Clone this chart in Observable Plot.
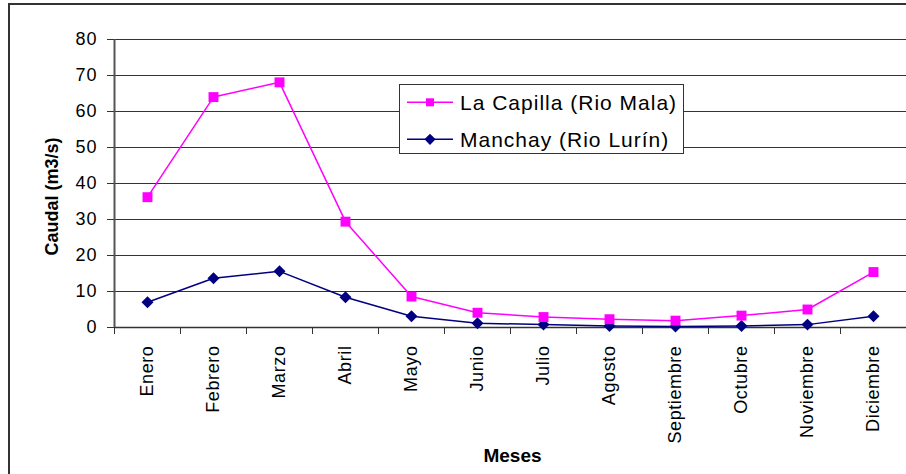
<!DOCTYPE html>
<html>
<head>
<meta charset="utf-8">
<script src="https://cdn.jsdelivr.net/npm/d3@7"></script>
<script src="https://cdn.jsdelivr.net/npm/@observablehq/plot@0.6"></script>
<style>
  html, body { margin: 0; padding: 0; background: #fff; }
  #wrap { position: relative; width: 906px; height: 474px; overflow: hidden; font-family: "Liberation Sans", Arial, sans-serif; }
  #border { position: absolute; left: 8px; top: 3px; width: 2000px; height: 2000px; border-left: 2px solid #333; border-top: 2px solid #333; box-sizing: border-box; pointer-events: none; }
  #legend { position: absolute; left: 399px; top: 84px; width: 285px; height: 70px; box-sizing: border-box; border: 1px solid #333; background: #fff; }
  #chart svg { display: block; }
</style>
</head>
<body>
<div id="wrap">
  <div id="chart"></div>
  <div id="border"></div>
  <div id="legend"></div>
</div>
<script>
// ---- Data ----
const months = ["Enero", "Febrero", "Marzo", "Abril", "Mayo", "Junio", "Julio", "Agosto", "Septiembre", "Octubre", "Noviembre", "Diciembre"];
const capilla = [36.2, 64.0, 68.1, 29.4, 8.6, 4.1, 2.9, 2.3, 1.9, 3.3, 5.0, 15.4];
const manchay = [7.0, 13.7, 15.6, 8.4, 3.1, 1.2, 0.8, 0.4, 0.3, 0.4, 0.8, 3.1];
const seriesNames = ["La Capilla (Rio Mala)", "Manchay (Rio Lurín)"];
const seriesColors = ["#FF00FF", "#000080"];
const yTicks = [0, 10, 20, 30, 40, 50, 60, 70, 80];
const yLabel = "Caudal (m3/s)";
const xLabel = "Meses";

const rows = months.map((m, i) => ({ pos: i + 0.5, month: m, capilla: capilla[i], manchay: manchay[i] }));
const bandEdges = d3.range(months.length + 1);

const chart = Plot.plot({
  width: 906,
  height: 474,
  marginLeft: 114,
  marginRight: 0,
  marginTop: 39,
  marginBottom: 147,
  style: { fontFamily: "'Liberation Sans', Arial, sans-serif", background: "transparent", color: "#000", overflow: "visible" },
  x: { type: "linear", domain: [0, months.length] },
  y: { domain: [0, 80] },
  marks: [
    Plot.gridY(yTicks, { stroke: "#333", strokeOpacity: 1, strokeWidth: 1 }),
    Plot.ruleY([0], { stroke: "#333", strokeWidth: 1.5 }),
    Plot.ruleX([0], { stroke: "#555", strokeWidth: 2 }),
    Plot.axisY(yTicks, { tickSize: 7, tickPadding: 10, fontSize: 18, label: null, tickFormat: d => String(d), stroke: "#333" }),
    Plot.axisX(bandEdges, { tickSize: 7, tickFormat: () => "", label: null, stroke: "#333" }),
    Plot.axisX(rows.map(d => d.pos), { tickSize: 0, tickPadding: 18, rotate: -90, textAnchor: "end", lineAnchor: "middle", fontSize: 18, label: null, tickFormat: d => months[Math.floor(d)] }),
    Plot.line(rows, { x: "pos", y: "capilla", stroke: seriesColors[0], strokeWidth: 1.5 }),
    Plot.line(rows, { x: "pos", y: "manchay", stroke: seriesColors[1], strokeWidth: 1.5 }),
    Plot.dot(rows, { x: "pos", y: "manchay", symbol: "diamond2", r: 5.4, fill: seriesColors[1], stroke: "none" }),
    Plot.dot(rows, { x: "pos", y: "capilla", symbol: "square", r: 5.6, fill: seriesColors[0], stroke: "none" }),
    Plot.text([yLabel], { frameAnchor: "left", text: d => d, rotate: -90, dx: -62, dy: 13, textAnchor: "middle", lineAnchor: "middle", fontWeight: "bold", fontSize: 18 }),
    Plot.text([xLabel], { frameAnchor: "bottom", text: d => d, dx: 2, dy: 128, textAnchor: "middle", lineAnchor: "middle", fontWeight: "bold", fontSize: 19 })
  ]
});
document.getElementById("chart").appendChild(chart);

// letter spacing for tick labels (Excel-like wide text)
d3.select(chart).selectAll("g[aria-label='x-axis tick label'] text").attr("letter-spacing", "0.6px");
d3.select(chart).selectAll("g[aria-label='y-axis tick label'] text").attr("letter-spacing", "1px");

// ---- Legend ----
const lg = d3.select("#legend").append("svg").attr("width", 283).attr("height", 68).style("display", "block");
seriesNames.forEach((name, i) => {
  const cy = 17.3 + 37 * i;
  const g = lg.append("g");
  g.append("line").attr("x1", 7).attr("x2", 53).attr("y1", cy).attr("y2", cy).attr("stroke", seriesColors[i]).attr("stroke-width", 1.5);
  const sym = i === 0 ? d3.symbolSquare : d3.symbolDiamond2;
  const size = i === 0 ? 64 : 80;
  g.append("path").attr("d", d3.symbol(sym, size)()).attr("transform", `translate(30,${cy})`).attr("fill", seriesColors[i]);
  g.append("text").attr("x", 60).attr("y", cy + 7.7).attr("font-size", 21).attr("letter-spacing", "1px")
    .attr("font-family", "'Liberation Sans', Arial, sans-serif").attr("fill", "#000").text(name);
});
</script>
</body>
</html>
